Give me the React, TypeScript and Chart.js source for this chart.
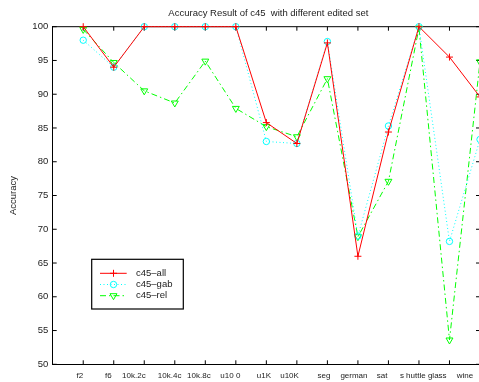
import { useEffect, useRef } from 'react';
import { Chart, registerables } from 'chart.js';
import { drawPoint } from 'chart.js/helpers';

Chart.register(...registerables);

// Data sets evaluated, in plotting order
const dataSets = ['f2', 'f6', '10k.2c', '10k.4c', '10k.8c', 'u100', 'u1K', 'u10K', 'seg', 'german', 'sat', 'shuttle', 'glass', 'wine'];

// Tick captions printed under the x axis
const axisCaptions = ['f2', 'f6', '10k.2c', '10k.4c', '10k.8c', 'u10 0', 'u1K', 'u10K', 'seg', 'german', 'sat', 's huttle glass', 'wine'];

// Accuracy (%) per data set
const c45All = [100, 94, 100, 100, 100, 100, 85.8, 82.7, 97.6, 66, 84.4, 100, 95.5, 89.6];
const c45Gab = [98, 94, 100, 100, 100, 100, 83, 82.7, 97.8, 69, 85.3, 100, 68.2, 83.3];
const c45Rel = [99.6, 94.7, 90.5, 88.7, 94.9, 87.9, 85.2, 83.7, 92.3, 68.9, 77.1, 99.8, 53.6, 94.8];

const yMin = 50;
const yMax = 100;
const yStep = 5;

const TITLE = 'Accuracy Result of c45  with different edited set';
const FONT = '"Liberation Sans", Arial, Helvetica, sans-serif';
const INK = '#222';

// where each caption sits along the x scale (in data-set index units)
const CAPTION_AT = [-0.11, 0.82, 1.66, 2.83, 3.79, 4.82, 5.92, 6.76, 7.89, 8.87, 9.79, 11.14, 12.51];

const toPoints = (vals: number[]) => vals.map((v, i) => ({ x: i, y: v }));

const framePlugin = {
  id: 'frame',
  beforeDatasetsDraw(chart: any) {
    const { ctx, chartArea: a, scales } = chart;
    const xs = scales.x;
    const ys = scales.y;
    ctx.save();
    ctx.strokeStyle = '#000';
    ctx.lineWidth = 1;
    ctx.beginPath();
    ctx.moveTo(a.left, a.top);
    ctx.lineTo(a.right, a.top);
    ctx.stroke();
    const tl = 4;
    ctx.beginPath();
    for (let i = 0; i < dataSets.length; i++) {
      const px = xs.getPixelForValue(i);
      ctx.moveTo(px, a.bottom);
      ctx.lineTo(px, a.bottom - tl);
      ctx.moveTo(px, a.top);
      ctx.lineTo(px, a.top + tl);
    }
    for (let v = yMin; v <= yMax; v += yStep) {
      const py = ys.getPixelForValue(v);
      ctx.moveTo(a.left, py);
      ctx.lineTo(a.left + tl, py);
      ctx.moveTo(a.right, py);
      ctx.lineTo(a.right - tl, py);
    }
    ctx.stroke();
    ctx.restore();
  },
  afterDraw(chart: any) {
    const { ctx, chartArea: a, scales } = chart;
    const xs = scales.x;
    ctx.save();
    ctx.fillStyle = INK;
    ctx.textAlign = 'center';
    ctx.textBaseline = 'middle';
    ctx.font = `9.5px ${FONT}`;
    ctx.fillText(TITLE, (a.left + a.right) / 2 + 2, 13.5);
    ctx.font = `8px ${FONT}`;
    axisCaptions.forEach((c, k) => {
      ctx.fillText(c, xs.getPixelForValue(CAPTION_AT[k]), a.bottom + 11.5);
    });
    ctx.restore();
  },
};

const legendPlugin = {
  id: 'boxLegend',
  afterDatasetsDraw(chart: any) {
    const { ctx, chartArea: a } = chart;
    const left = a.left + 39;
    const top = a.top + 232.6;
    const w = 91.6;
    const h = 49.7;
    ctx.save();
    ctx.fillStyle = '#fff';
    ctx.fillRect(left, top, w, h);
    ctx.strokeStyle = '#000';
    ctx.lineWidth = 1.2;
    ctx.strokeRect(left, top, w, h);
    chart.data.datasets.forEach((ds: any, i: number) => {
      const ry = top + 14 + i * 11.2;
      ctx.strokeStyle = ds.borderColor;
      ctx.lineWidth = ds.borderWidth;
      ctx.setLineDash(ds.borderDash || []);
      ctx.beginPath();
      ctx.moveTo(left + 8.3, ry);
      ctx.lineTo(left + 35, ry);
      ctx.stroke();
      ctx.setLineDash([]);
      ctx.fillStyle = 'rgba(0,0,0,0)';
      ctx.lineWidth = 1;
      drawPoint(ctx, {
        pointStyle: ds.pointStyle,
        rotation: ds.pointRotation || 0,
        radius: ds.pointRadius,
        borderWidth: 1,
      } as any, left + 21.8, ry);
      ctx.fillStyle = INK;
      ctx.font = `9.5px ${FONT}`;
      ctx.textAlign = 'left';
      ctx.textBaseline = 'middle';
      ctx.fillText(ds.label, left + 44.3, ry);
    });
    ctx.restore();
  },
};

export default function App() {
  const canvasRef = useRef<HTMLCanvasElement | null>(null);

  useEffect(() => {
    const canvas = canvasRef.current;
    if (!canvas) return;
    const chart = new Chart(canvas, {
      type: 'line',
      data: {
        datasets: [
          {
            label: 'c45–all',
            data: toPoints(c45All),
            borderColor: '#ff0000',
            borderWidth: 1,
            pointStyle: 'cross',
            pointRadius: 3.5,
            pointBorderColor: '#ff0000',
            pointBackgroundColor: 'rgba(0,0,0,0)',
            pointBorderWidth: 1,
            tension: 0,
            clip: false,
          },
          {
            label: 'c45–gab',
            data: toPoints(c45Gab),
            borderColor: '#00ffff',
            borderWidth: 1,
            borderDash: [1, 2.5],
            pointStyle: 'circle',
            pointRadius: 3.2,
            pointBorderColor: '#00ffff',
            pointBackgroundColor: 'rgba(0,0,0,0)',
            pointBorderWidth: 1,
            tension: 0,
            clip: false,
          },
          {
            label: 'c45–rel',
            data: toPoints(c45Rel),
            borderColor: '#00ff00',
            borderWidth: 1,
            borderDash: [6, 3, 1.5, 3],
            pointStyle: 'triangle',
            pointRotation: 180,
            pointRadius: 4,
            pointBorderColor: '#00ff00',
            pointBackgroundColor: 'rgba(0,0,0,0)',
            pointBorderWidth: 1,
            tension: 0,
            clip: false,
          },
        ] as any,
      },
      options: {
        responsive: false,
        devicePixelRatio: 1,
        animation: false,
        parsing: true,
        layout: { padding: { top: 26.7, right: 20, bottom: 0, left: 0 } },
        plugins: {
          legend: { display: false },
          title: { display: false },
          tooltip: { enabled: false },
        },
        scales: {
          x: {
            type: 'linear',
            min: -1,
            max: dataSets.length - 1,
            ticks: { display: false },
            grid: { display: false, drawTicks: false },
            border: { display: true, color: '#000', width: 1 },
            afterFit: (s: any) => {
              s.height = 17.7;
            },
          },
          y: {
            type: 'linear',
            min: yMin,
            max: yMax,
            ticks: {
              stepSize: yStep,
              color: INK,
              padding: 4.5,
              font: { family: FONT, size: 9.5 },
            },
            grid: { display: false, drawTicks: false },
            border: { display: true, color: '#000', width: 1 },
            title: {
              display: true,
              text: 'Accuracy',
              color: INK,
              font: { family: FONT, size: 9.5 },
              padding: { top: 8, bottom: 0 },
            },
            afterFit: (s: any) => {
              s.width = 52.7;
            },
          },
        },
      } as any,
      plugins: [framePlugin, legendPlugin],
    });
    return () => chart.destroy();
  }, []);

  return (
    <div
      style={{
        position: 'absolute',
        left: 0,
        top: 0,
        width: 479,
        height: 382,
        overflow: 'hidden',
        background: '#fff',
      }}
    >
      <canvas ref={canvasRef} width={500} height={382} style={{ display: 'block', width: 500, height: 382 }} />
    </div>
  );
}
